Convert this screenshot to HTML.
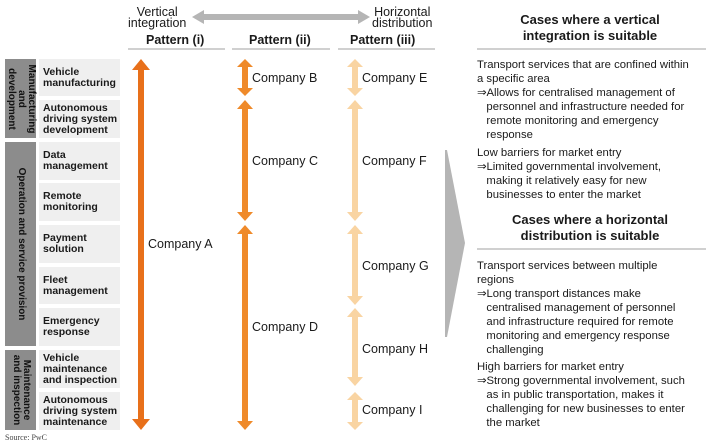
<!DOCTYPE html>
<html><head><style>
body{margin:0;width:710px;height:442px;background:#fff;font-family:"Liberation Sans",sans-serif;position:relative;overflow:hidden;color:#1a1a1a}
.a{position:absolute;white-space:nowrap}
.box{position:absolute;left:39px;width:81px;background:#efefef;font-weight:bold;font-size:10.5px;line-height:11px;padding-left:4px;box-sizing:border-box;display:flex;align-items:center;white-space:nowrap;overflow:hidden}
.grp{position:absolute;left:5px;width:31px;background:#8c8c8c}
.grp span{position:absolute;left:50%;top:50%;transform:translate(-50%,-50%) rotate(90deg);font-weight:bold;font-size:10px;line-height:10px;text-align:center;white-space:nowrap;color:#111}
.co{position:absolute;font-size:12.5px}
.t{position:absolute;left:477px;font-size:11.3px;line-height:14px;width:232px}
.h{position:absolute;left:470px;width:240px;text-align:center;font-weight:bold;font-size:13px;line-height:16px}
</style></head><body>
<div class="a" style="left:128px;top:7px;font-size:12.5px;line-height:11px;text-align:center">Vertical<br>integration</div>
<div class="a" style="left:372px;top:7px;font-size:12.5px;line-height:11px;text-align:center">Horizontal<br>distribution</div>
<svg class="a" style="left:0;top:0" width="710" height="442">
<g fill="#b5b5b5"><polygon points="192,17 204,10 204,14 358,14 358,10 370,17 358,24 358,20 204,20 204,24"/>
<polygon points="445,150 447,150 465,243 447,337 445,337"/></g>
<g stroke="#b5b5b5" stroke-width="1.2"><line x1="128" y1="49" x2="225" y2="49"/><line x1="232" y1="49" x2="330" y2="49"/><line x1="338" y1="49" x2="435" y2="49"/><line x1="477" y1="49" x2="706" y2="49"/><line x1="477" y1="249" x2="706" y2="249"/></g>
</svg>
<div class="a" style="left:146px;top:33px;font-weight:bold;font-size:12.5px">Pattern (i)</div>
<div class="a" style="left:249px;top:33px;font-weight:bold;font-size:12.5px">Pattern (ii)</div>
<div class="a" style="left:350px;top:33px;font-weight:bold;font-size:12.5px">Pattern (iii)</div>

<div class="grp" style="top:59px;height:79px"><span>Manufacturing<br>and<br>development</span></div>
<div class="grp" style="top:142px;height:204px"><span>Operation and service provision</span></div>
<div class="grp" style="top:350px;height:80px"><span>Maintenance<br>and inspection</span></div>

<div class="box" style="top:59px;height:37px">Vehicle<br>manufacturing</div>
<div class="box" style="top:100px;height:38px">Autonomous<br>driving system<br>development</div>
<div class="box" style="top:142px;height:38px">Data<br>management</div>
<div class="box" style="top:183px;height:38px">Remote<br>monitoring</div>
<div class="box" style="top:225px;height:38px">Payment<br>solution</div>
<div class="box" style="top:267px;height:37px">Fleet<br>management</div>
<div class="box" style="top:308px;height:38px">Emergency<br>response</div>
<div class="box" style="top:350px;height:38px">Vehicle<br>maintenance<br>and inspection</div>
<div class="box" style="top:392px;height:38px">Autonomous<br>driving system<br>maintenance</div>

<svg class="a" style="left:0;top:0" width="710" height="442">
<g fill="#e8701a"><polygon points="141,59 150,70 144,70 144,419 150,419 141,430 132,419 138,419 138,70 132,70"/></g>
<g fill="#ef8a2a">
<polygon points="245,59 253,67 248,67 248,88 253,88 245,96 237,88 242,88 242,67 237,67"/>
<polygon points="245,100 253,109 248,109 248,212 253,212 245,221 237,212 242,212 242,109 237,109"/>
<polygon points="245,225 253,234 248,234 248,421 253,421 245,430 237,421 242,421 242,234 237,234"/>
</g>
<g fill="#f9d4a2">
<polygon points="355,59 363,67 358,67 358,88 363,88 355,96 347,88 352,88 352,67 347,67"/>
<polygon points="355,100 363,109 358,109 358,212 363,212 355,221 347,212 352,212 352,109 347,109"/>
<polygon points="355,225 363,234 358,234 358,296 363,296 355,305 347,296 352,296 352,234 347,234"/>
<polygon points="355,308 363,317 358,317 358,377 363,377 355,386 347,377 352,377 352,317 347,317"/>
<polygon points="355,392 363,400 358,400 358,422 363,422 355,430 347,422 352,422 352,400 347,400"/>
</g></svg>

<div class="co" style="left:148px;top:237px">Company A</div>
<div class="co" style="left:252px;top:71px">Company B</div>
<div class="co" style="left:252px;top:154px">Company C</div>
<div class="co" style="left:252px;top:320px">Company D</div>
<div class="co" style="left:362px;top:71px">Company E</div>
<div class="co" style="left:362px;top:154px">Company F</div>
<div class="co" style="left:362px;top:259px">Company G</div>
<div class="co" style="left:362px;top:342px">Company H</div>
<div class="co" style="left:362px;top:403px">Company I</div>

<div class="h" style="top:12px">Cases where a vertical<br>integration is suitable</div>
<div class="t" style="top:58px">Transport services that are confined within<br>a specific area<br>⇒Allows for centralised management of<br>&nbsp;&nbsp;&nbsp;personnel and infrastructure needed for<br>&nbsp;&nbsp;&nbsp;remote monitoring and emergency<br>&nbsp;&nbsp;&nbsp;response</div>
<div class="t" style="top:146px">Low barriers for market entry<br>⇒Limited governmental involvement,<br>&nbsp;&nbsp;&nbsp;making it relatively easy for new<br>&nbsp;&nbsp;&nbsp;businesses to enter the market</div>
<div class="h" style="top:212px">Cases where a horizontal<br>distribution is suitable</div>
<div class="t" style="top:259px">Transport services between multiple<br>regions<br>⇒Long transport distances make<br>&nbsp;&nbsp;&nbsp;centralised management of personnel<br>&nbsp;&nbsp;&nbsp;and infrastructure required for remote<br>&nbsp;&nbsp;&nbsp;monitoring and emergency response<br>&nbsp;&nbsp;&nbsp;challenging</div>
<div class="t" style="top:360px">High barriers for market entry<br>⇒Strong governmental involvement, such<br>&nbsp;&nbsp;&nbsp;as in public transportation, makes it<br>&nbsp;&nbsp;&nbsp;challenging for new businesses to enter<br>&nbsp;&nbsp;&nbsp;the market</div>
<div class="a" style="left:5px;top:433px;font-size:8px;font-family:'Liberation Serif',serif;color:#444">Source: PwC</div>
</body></html>
